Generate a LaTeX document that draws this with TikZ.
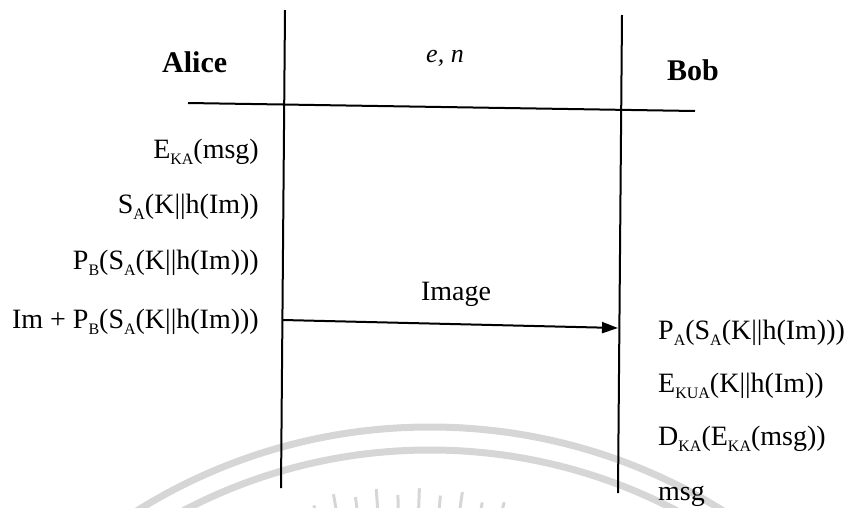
\documentclass[tikz,border=0pt]{standalone}
\usepackage{fontspec}
\setmainfont{Liberation Serif}
\usetikzlibrary{arrows.meta}
\definecolor{sealgray}{HTML}{D6D6D6}
% lowered small index letters
\newcommand\sbx[1]{\raisebox{-6pt}{\fontsize{16}{16}\selectfont #1}}
\tikzset{
  lifeline/.style={line width=2pt},
  msgarrow/.style={line width=2pt,-{Triangle[length=16pt,width=11pt]}},
  party/.style={font=\fontsize{30}{30}\selectfont\bfseries, inner sep=0pt},
  formula/.style={font=\fontsize{28}{28}\selectfont, inner sep=0pt},
  param/.style={font=\fontsize{26}{26}\selectfont\itshape, inner sep=0pt},
  seal/.style={draw=sealgray, line width=7pt},
  ray/.style={draw=sealgray, line width=3pt},
}
\begin{document}
\begin{tikzpicture}[x=1pt,y=-1pt]
\useasboundingbox (0,0) rectangle (855,507);

% faint seal in the background
\begin{scope}
  \clip (0,0) rectangle (855,507);
  \draw[seal] (430,981) circle[radius=554];
  \draw[seal] (430,981) circle[radius=531];
  \foreach \a/\r in {-13/405,-10/412,-7/406,-4/412,-1/405,2/412,5/406,8/412,11/405,14/410}
    \draw[ray] (405,900) ++(270+\a:370) -- ++(270+\a:\r-370);
\end{scope}

% lifelines and header rule
\coordinate (atop) at (285,10);
\coordinate (abot) at (281,488);
\coordinate (btop) at (622,15);
\coordinate (bbot) at (618,493);
\coordinate (hl) at (188,103);
\coordinate (hr) at (695,111);
\draw[lifeline] (atop) -- (abot);
\draw[lifeline] (btop) -- (bbot);
\draw[lifeline] (hl) -- (hr);

% parties and shared parameters
\node[party, anchor=base west] (alice) at (162,72) {Alice};
\node[party, anchor=base west] (bob) at (667,80) {Bob};
\node[param, anchor=base] (en) at (445,62) {e, n};

% Alice's steps
\node[formula, anchor=base east] (a1) at (259,158) {E\sbx{KA}(msg)};
\node[formula, anchor=base east] (a2) at (259,213) {S\sbx{A}(K||h(Im))};
\node[formula, anchor=base east] (a3) at (259,269) {P\sbx{B}(S\sbx{A}(K||h(Im)))};
\node[formula, anchor=base east] (a4) at (259,328) {Im + P\sbx{B}(S\sbx{A}(K||h(Im)))};

% transmitted message
\coordinate (sendA) at (283,320);
\coordinate (recvB) at (618,328);
\draw[msgarrow] (sendA) -- (recvB);
\node[formula, anchor=base] (img) at (456,300) {Image};

% Bob's steps
\node[formula, anchor=base west] (b1) at (658,339) {P\sbx{A}(S\sbx{A}(K||h(Im)))};
\node[formula, anchor=base west] (b2) at (658,392) {E\sbx{KUA}(K||h(Im))};
\node[formula, anchor=base west] (b3) at (658,445) {D\sbx{KA}(E\sbx{KA}(msg))};
\node[formula, anchor=base west] (b4) at (658,500) {msg};
\end{tikzpicture}
\end{document}
